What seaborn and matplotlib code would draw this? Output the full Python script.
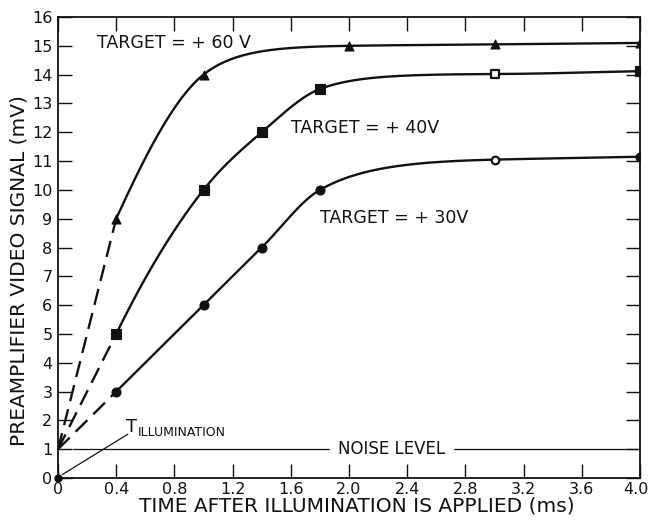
import numpy as np
import pandas as pd
import matplotlib
matplotlib.use("Agg")
import matplotlib.pyplot as plt
import matplotlib.transforms as mtransforms
import seaborn as sns

# Measured signal vs. time after illumination for three target voltages
time_60 = [0.4, 1.0, 2.0, 3.0, 4.0]
signal_60 = [9.0, 14.0, 15.0, 15.05, 15.1]

time_40 = [0.4, 1.0, 1.4, 1.8, 3.0, 4.0]
signal_40 = [5.0, 10.0, 12.0, 13.5, 14.02, 14.12]

time_30 = [0.4, 1.0, 1.4, 1.8, 3.0, 4.0]
signal_30 = [3.0, 6.0, 8.0, 10.0, 11.05, 11.15]

# Signal at the instant illumination starts (dashed extrapolation origin)
origin = (0.0, 1.0)
noise_level = 1.0

x_ticks = [0, 0.4, 0.8, 1.2, 1.6, 2.0, 2.4, 2.8, 3.2, 3.6, 4.0]
x_tick_labels = ["0", "0.4", "0.8", "1.2", "1.6", "2.0", "2.4", "2.8", "3.2", "3.6", "4.0"]
y_ticks = list(range(0, 17))

labels = {
    "60": "TARGET = + 60 V",
    "40": "TARGET = + 40V",
    "30": "TARGET = + 30V",
}


def _decay_rate(ratio):
    """Solve lam / (1 - exp(-lam)) = ratio for lam by bisection."""
    lo, hi = 1e-6, 60.0
    for _ in range(80):
        mid = 0.5 * (lo + hi)
        if mid / (1 - np.exp(-mid)) < ratio:
            lo = mid
        else:
            hi = mid
    return 0.5 * (lo + hi)


def saturating_curve(x, y, n=120):
    """Smooth monotone curve through the points: cubic Hermite pieces, and an
    exponential approach wherever a steep rise runs into a plateau."""
    x = np.asarray(x, float)
    y = np.asarray(y, float)
    h = np.diff(x)
    d = np.diff(y) / h
    m = np.empty(len(x))
    prod = d[:-1] * d[1:]
    geo = np.where(prod > 0, np.sign(d[1:]) * np.sqrt(np.abs(prod)), 0.0)
    ari = (d[:-1] * h[1:] + d[1:] * h[:-1]) / (h[:-1] + h[1:])
    m[1:-1] = np.sign(geo) * np.sqrt(np.abs(geo * ari))
    m[0] = ((2 * h[0] + h[1]) * d[0] - h[0] * d[1]) / (h[0] + h[1])
    m[-1] = d[-1]
    xs_all, ys_all = [], []
    for k in range(len(x) - 1):
        t = np.linspace(0, 1, n)
        a = m[k] / d[k]
        b = m[k + 1] / d[k]
        if a * a + b * b <= 9:
            h00 = 2 * t**3 - 3 * t**2 + 1
            h10 = t**3 - 2 * t**2 + t
            h01 = -2 * t**3 + 3 * t**2
            h11 = t**3 - t**2
            seg = (h00 * y[k] + h10 * h[k] * m[k]
                   + h01 * y[k + 1] + h11 * h[k] * m[k + 1])
        else:
            lam = _decay_rate(max(a, 1.0001))
            norm = 1 - np.exp(-lam)
            seg = y[k] + (y[k + 1] - y[k]) * (1 - np.exp(-lam * t)) / norm
            m[k + 1] = d[k] * lam * np.exp(-lam) / norm
        xs_all.append(x[k] + t * h[k])
        ys_all.append(seg)
    return np.concatenate(xs_all), np.concatenate(ys_all)


sns.set_theme(style="white")
plt.rcParams["font.family"] = ["DejaVu Sans"]
ink = "#111111"

fig = plt.figure(figsize=(6.51, 5.26), dpi=100)
ax = fig.add_axes([58 / 651, 48 / 526, 582 / 651, 461 / 526])
ax.set_xlim(0, 4.0)
ax.set_ylim(0, 16)

series = [
    ("60", time_60, signal_60, "^"),
    ("40", time_40, signal_40, "s"),
    ("30", time_30, signal_30, "o"),
]

for key, tx, sy, mk in series:
    # smooth solid curve through the measurements
    cx, cy = saturating_curve(tx, sy)
    curve = pd.DataFrame({"t": cx, "v": cy})
    sns.lineplot(data=curve, x="t", y="v", ax=ax, color=ink, lw=1.7,
                 estimator=None, sort=False)
    # dashed extrapolation back to the illumination instant
    ax.plot([origin[0], tx[0]], [origin[1], sy[0]], color=ink, lw=1.7,
            linestyle=(0, (7, 3.5)), solid_capstyle="butt")
    # measured points
    pts = pd.DataFrame({"t": tx, "v": sy})
    is_open = (pts["t"] == 3.0) & (key != "60")
    sns.scatterplot(data=pts[~is_open], x="t", y="v", ax=ax, marker=mk, s=42,
                    color=ink, edgecolor=ink, linewidth=0.8, zorder=5)
    if is_open.any():
        sns.scatterplot(data=pts[is_open], x="t", y="v", ax=ax, marker=mk, s=30,
                        facecolor="white", edgecolor=ink, linewidth=1.6,
                        zorder=5)

# illumination instant marker and its callout
ax.plot([0.0], [0.0], marker="o", ms=5, color=ink, clip_on=False, zorder=6)
ax.plot([0.03, 0.48], [0.12, 1.52], color=ink, lw=0.9)
ax.text(0.465, 1.76, "T", fontsize=13, color=ink, ha="left", va="center")
ax.text(0.545, 1.58, "ILLUMINATION", fontsize=9, color=ink,
        ha="left", va="center")

# noise level line with inline label
ax.plot([0.1, 1.86], [noise_level, noise_level], color=ink, lw=0.9)
ax.plot([2.72, 3.98], [noise_level, noise_level], color=ink, lw=0.9)
ax.text(2.29, noise_level, "NOISE LEVEL", fontsize=12, color=ink,
        ha="center", va="center")

# curve labels
ax.text(0.27, 15.1, labels["60"], fontsize=12.5, color=ink, ha="left", va="center")
ax.text(1.60, 12.15, labels["40"], fontsize=12.5, color=ink, ha="left", va="center")
ax.text(1.80, 9.03, labels["30"], fontsize=12.5, color=ink, ha="left", va="center")

ax.set_xticks(x_ticks)
ax.set_xticklabels(x_tick_labels)
ax.set_yticks(y_ticks)
ax.tick_params(axis="both", direction="in", length=10, width=1.0,
               color=ink, labelcolor=ink, labelsize=11.5,
               top=True, right=True, bottom=True, left=True)
ax.tick_params(axis="x", pad=3)
ax.tick_params(axis="y", pad=4)
# keep the last x label inside the canvas
last = ax.get_xticklabels()[-1]
last.set_transform(last.get_transform()
                   + mtransforms.ScaledTranslation(-3 / 72, 0, fig.dpi_scale_trans))
for sp in ax.spines.values():
    sp.set_visible(True)
    sp.set_color(ink)
    sp.set_linewidth(1.3)

ax.set_xlabel("TIME AFTER ILLUMINATION IS APPLIED (ms)", fontsize=14.5, color=ink)
ax.set_ylabel("PREAMPLIFIER VIDEO SIGNAL (mV)", fontsize=14.5, color=ink)
ax.xaxis.set_label_coords(0.514, -0.04)
ax.yaxis.set_label_coords(-0.05, 0.45)

fig.savefig("out.png", dpi=100, facecolor="white")
